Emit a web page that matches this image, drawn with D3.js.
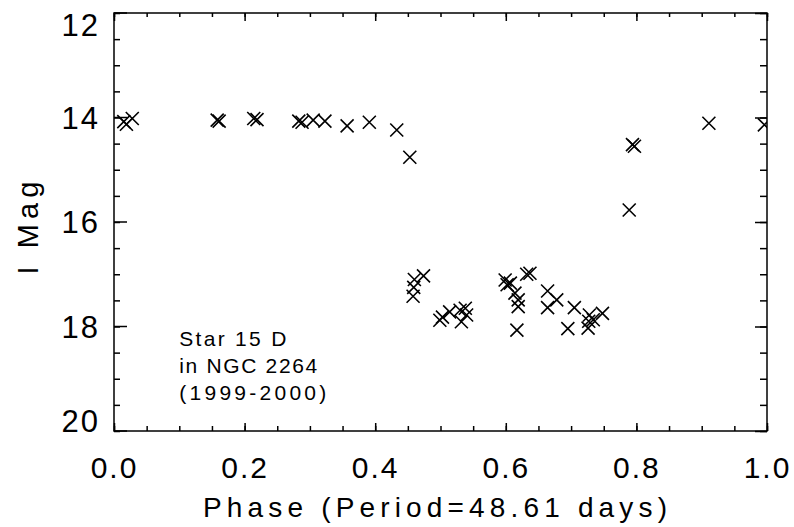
<!DOCTYPE html>
<html>
<head>
<meta charset="utf-8">
<script src="https://cdn.jsdelivr.net/npm/d3@7"></script>
<style>
	body { margin: 0; background: #fff; }
	svg { display: block; }
	text { font-family: 'Liberation Sans', Arial, sans-serif; fill: #000; }
</style>
</head>
<body>
<div id="chart"></div>
<script>
// light curve: phase and I magnitude of each observation
const phase = [
	0.015, 0.019, 0.028, 0.158, 0.161, 0.214, 0.219, 0.283, 0.288, 0.305,
	0.323, 0.357, 0.391, 0.433, 0.453, 0.460, 0.474, 0.459, 0.458, 0.499,
	0.503, 0.514, 0.530, 0.538, 0.532, 0.540, 0.599, 0.602, 0.607, 0.614,
	0.619, 0.619, 0.617, 0.632, 0.637, 0.664, 0.678, 0.664, 0.705, 0.695,
	0.728, 0.727, 0.726, 0.734, 0.748, 0.789, 0.794, 0.797, 0.911, 0.996
];
const imag = [
	14.08, 14.13, 14.02, 14.05, 14.07, 14.02, 14.04, 14.07, 14.09, 14.05,
	14.07, 14.16, 14.09, 14.24, 14.76, 17.10, 17.03, 17.25, 17.42, 17.88,
	17.82, 17.72, 17.69, 17.65, 17.91, 17.78, 17.11, 17.20, 17.17, 17.36,
	17.49, 17.62, 18.07, 17.00, 16.98, 17.32, 17.49, 17.64, 17.64, 18.04,
	17.78, 17.90, 18.03, 17.87, 17.75, 15.77, 14.52, 14.55, 14.11, 14.14
];

const xMajor = [0.0, 0.2, 0.4, 0.6, 0.8, 1.0];
const yMajor = [12, 14, 16, 18, 20];
const xMinor = d3.range(0, 1.0001, 0.05);
const yMinor = d3.range(12, 20.0001, 0.5);

const annotation = ['Star 15 D', 'in NGC 2264', '(1999-2000)'];

const margin = { top: 13, right: 27, bottom: 96, left: 114 };
const W = 794, H = 527;
const width = W - margin.left - margin.right;
const height = H - margin.top - margin.bottom;

const svg = d3.select('#chart').append('svg').attr('width', W).attr('height', H);
const g = svg.append('g').attr('transform', `translate(${margin.left},${margin.top})`);

const x = d3.scaleLinear().domain([0, 1]).range([0, width]);
const y = d3.scaleLinear().domain([12, 20]).range([0, height]);

// clip for markers that sit on the frame
svg.append('defs').append('clipPath').attr('id', 'plotclip')
	.append('rect').attr('width', width).attr('height', height);

// frame
g.append('rect')
	.attr('width', width).attr('height', height)
	.attr('fill', 'none').attr('stroke', '#000').attr('stroke-width', 1.5);

function styleAxis(sel) {
	sel.select('.domain').remove();
	sel.selectAll('line').attr('stroke', '#000').attr('stroke-width', 1.5);
}

// minor ticks
g.append('g').attr('transform', `translate(0,${height})`)
	.call(d3.axisBottom(x).tickValues(xMinor).tickSize(-5).tickFormat(''))
	.call(styleAxis);
g.append('g')
	.call(d3.axisTop(x).tickValues(xMinor).tickSize(-4).tickFormat(''))
	.call(styleAxis);
g.append('g')
	.call(d3.axisLeft(y).tickValues(yMinor).tickSize(-6).tickFormat(''))
	.call(styleAxis);
g.append('g').attr('transform', `translate(${width},0)`)
	.call(d3.axisRight(y).tickValues(yMinor).tickSize(-7).tickFormat(''))
	.call(styleAxis);

// major ticks
const xAxis = g.append('g').attr('transform', `translate(0,${height})`)
	.call(d3.axisBottom(x).tickValues(xMajor).tickSize(-8).tickFormat(d3.format('.1f')))
	.call(styleAxis);
xAxis.selectAll('text')
	.attr('y', 47).attr('dy', null)
	.style('font-size', '30px').attr('letter-spacing', 2);

g.append('g')
	.call(d3.axisTop(x).tickValues(xMajor).tickSize(-8).tickFormat(''))
	.call(styleAxis);

const yAxis = g.append('g')
	.call(d3.axisLeft(y).tickValues(yMajor).tickSize(-13).tickFormat(d3.format('d')))
	.call(styleAxis);
// end labels are pulled inside the frame
yAxis.selectAll('.tick')
	.attr('transform', (d) => `translate(0,${Math.max(12, Math.min(height - 10, y(d)))})`);
yAxis.selectAll('.tick line')
	.attr('transform', function (d) {
		return `translate(0,${y(d) - Math.max(12, Math.min(height - 10, y(d)))})`;
	});
yAxis.selectAll('text')
	.attr('x', -14).attr('dy', '0.36em')
	.style('font-size', '31px').attr('letter-spacing', 2);

g.append('g').attr('transform', `translate(${width},0)`)
	.call(d3.axisRight(y).tickValues(yMajor).tickSize(-12).tickFormat(''))
	.call(styleAxis);

// markers
const s = 6.5;
const pts = phase.map((p, i) => ({ p: p, m: imag[i] }));
g.append('g').attr('clip-path', 'url(#plotclip)')
	.selectAll('path')
	.data(pts)
	.enter()
	.append('path')
	.attr('d', (d) => {
		const cx = x(d.p), cy = y(d.m);
		return `M${cx - s},${cy - s}L${cx + s},${cy + s}M${cx - s},${cy + s}L${cx + s},${cy - s}`;
	})
	.attr('stroke', '#000')
	.attr('stroke-width', 1.6)
	.attr('fill', 'none');

// annotation
const lineWidths = [107, 138, 147];
g.append('g')
	.selectAll('text')
	.data(annotation)
	.enter()
	.append('text')
	.attr('x', x(0.1))
	.attr('y', (d, i) => y(17.95) + 22 + i * 27)
	.attr('textLength', (d, i) => lineWidths[i])
	.attr('lengthAdjust', 'spacing')
	.style('font-size', '21px')
	.text((d) => d);

// axis titles
svg.append('text')
	.attr('x', 435).attr('y', 517)
	.attr('text-anchor', 'middle')
	.attr('textLength', 464).attr('lengthAdjust', 'spacing')
	.style('font-size', '28px')
	.text('Phase (Period=48.61 days)');

svg.append('text')
	.attr('transform', 'translate(38,228) rotate(-90)')
	.attr('text-anchor', 'middle')
	.attr('textLength', 93).attr('lengthAdjust', 'spacing')
	.style('font-size', '29px')
	.text('I Mag');
</script>
</body>
</html>
